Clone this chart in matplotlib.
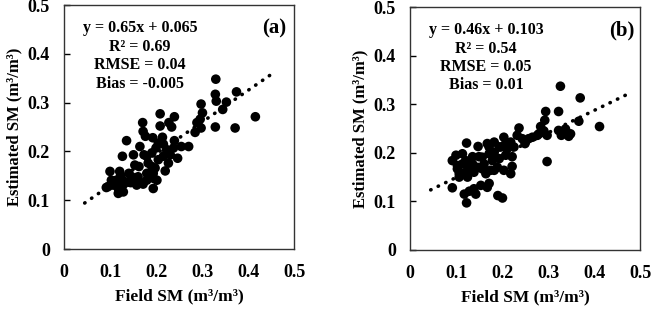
import matplotlib
matplotlib.use("Agg")
import matplotlib.pyplot as plt
import numpy as np

plt.rcParams['font.family'] = ['Liberation Serif', 'DejaVu Serif']
plt.rcParams['font.weight'] = 'bold'

# Panel (a) data
a_field = [0.330, 0.329, 0.331, 0.375, 0.353, 0.345, 0.298, 0.301, 0.296, 0.289,
           0.298, 0.285, 0.329, 0.372, 0.416, 0.209, 0.240, 0.228, 0.209, 0.234,
           0.171, 0.172, 0.177, 0.193, 0.136, 0.240, 0.255, 0.271, 0.216, 0.223,
           0.200, 0.191, 0.180, 0.174, 0.151, 0.127, 0.216, 0.205, 0.227, 0.247,
           0.220, 0.183, 0.154, 0.191, 0.198, 0.187, 0.100, 0.121, 0.141, 0.161,
           0.194, 0.202, 0.180, 0.164, 0.151, 0.132, 0.114, 0.103, 0.107, 0.096,
           0.118, 0.129, 0.145, 0.172, 0.158, 0.194, 0.118, 0.129, 0.140, 0.147,
           0.123, 0.163, 0.205, 0.231, 0.238, 0.214, 0.165, 0.180, 0.194, 0.092]
a_est = [0.348, 0.317, 0.303, 0.322, 0.301, 0.286, 0.297, 0.279, 0.266, 0.259,
         0.248, 0.239, 0.250, 0.248, 0.271, 0.277, 0.271, 0.259, 0.252, 0.250,
         0.259, 0.241, 0.231, 0.228, 0.222, 0.222, 0.210, 0.210, 0.215, 0.203,
         0.207, 0.197, 0.190, 0.193, 0.193, 0.190, 0.190, 0.183, 0.176, 0.186,
         0.160, 0.176, 0.172, 0.169, 0.166, 0.155, 0.159, 0.159, 0.155, 0.148,
         0.145, 0.141, 0.141, 0.138, 0.141, 0.138, 0.141, 0.141, 0.131, 0.128,
         0.124, 0.132, 0.136, 0.133, 0.131, 0.124, 0.114, 0.117, 0.137, 0.148,
         0.150, 0.169, 0.217, 0.193, 0.207, 0.229, 0.210, 0.155, 0.155, 0.126]

# Panel (b) data
b_field = [0.327, 0.370, 0.323, 0.295, 0.293, 0.284, 0.291, 0.298, 0.277, 0.258,
           0.250, 0.237, 0.233, 0.323, 0.329, 0.338, 0.349, 0.345, 0.367, 0.412,
           0.298, 0.123, 0.148, 0.168, 0.183, 0.204, 0.219, 0.197, 0.211, 0.183,
           0.172, 0.157, 0.136, 0.100, 0.092, 0.103, 0.114, 0.121, 0.129, 0.147,
           0.161, 0.179, 0.194, 0.208, 0.222, 0.222, 0.219, 0.204, 0.190, 0.175,
           0.157, 0.139, 0.121, 0.107, 0.107, 0.125, 0.154, 0.172, 0.168, 0.139,
           0.129, 0.118, 0.143, 0.092, 0.123, 0.191, 0.201, 0.183, 0.165, 0.150,
           0.194, 0.208, 0.226, 0.186, 0.172, 0.251, 0.244, 0.280, 0.266, 0.114,
           0.136, 0.103]
b_est = [0.337, 0.313, 0.285, 0.285, 0.267, 0.254, 0.245, 0.236, 0.236, 0.229,
         0.219, 0.251, 0.236, 0.246, 0.236, 0.249, 0.239, 0.234, 0.265, 0.254,
         0.182, 0.220, 0.213, 0.219, 0.222, 0.232, 0.222, 0.212, 0.208, 0.201,
         0.198, 0.191, 0.192, 0.195, 0.184, 0.174, 0.198, 0.184, 0.170, 0.170,
         0.177, 0.184, 0.188, 0.195, 0.192, 0.172, 0.157, 0.164, 0.170, 0.164,
         0.167, 0.160, 0.160, 0.157, 0.150, 0.150, 0.133, 0.137, 0.129, 0.126,
         0.121, 0.115, 0.115, 0.128, 0.097, 0.112, 0.107, 0.164, 0.157, 0.192,
         0.212, 0.219, 0.212, 0.190, 0.212, 0.223, 0.229, 0.239, 0.232, 0.177,
         0.177, 0.167]

ticks = [0, 0.1, 0.2, 0.3, 0.4, 0.5]
tick_labels = ['0', '0.1', '0.2', '0.3', '0.4', '0.5']

panels = [
    dict(field=a_field, est=a_est, slope=0.65, icpt=0.065, xr=(0.045, 0.45),
         stats=['y = 0.65x + 0.065', 'R² = 0.69', 'RMSE = 0.04', 'Bias = -0.005'],
         tag='(a)', rect=[64/652, 1-249/309, 230/652, 244/309], txt_x=0.33, tag_x=0.915),
    dict(field=b_field, est=b_est, slope=0.46, icpt=0.103, xr=(0.045, 0.475),
         stats=['y = 0.46x + 0.103', 'R² = 0.54', 'RMSE = 0.05', 'Bias = 0.01'],
         tag='(b)', rect=[410/652, 1-250/309, 230/652, 243/309], txt_x=0.33, tag_x=0.92),
]

fig = plt.figure(figsize=(6.52, 3.09), dpi=100)
for p in panels:
    ax = fig.add_axes(p['rect'])
    ax.scatter(p['field'], p['est'], s=48, c='black', edgecolors='none', zorder=3)
    xs = np.array(p['xr'])
    ax.plot(xs, p['slope'] * xs + p['icpt'], color='black', linestyle=(0, (0.1, 2.2)),
            linewidth=2.6, dash_capstyle='round', solid_capstyle='round', zorder=2)
    ax.set_xlim(0, 0.5)
    ax.set_ylim(0, 0.5)
    ax.set_xticks(ticks)
    ax.set_xticklabels(tick_labels)
    ax.set_yticks(ticks)
    ax.set_yticklabels(tick_labels)
    ax.tick_params(axis='x', direction='in', length=0, pad=11, labelsize=13)
    ax.tick_params(axis='y', direction='in', length=4, pad=10, labelsize=13, width=1)
    for sp in ax.spines.values():
        sp.set_linewidth(1.0)
        sp.set_color('#333333')
    ax.set_xlabel('Field SM (m³/m³)', fontsize=12.5, fontweight='bold', labelpad=5)
    ax.set_ylabel('Estimated SM (m³/m³)', fontsize=12, fontweight='bold', labelpad=4)
    for i, s in enumerate(p['stats']):
        ax.text(p['txt_x'], 0.905 - i * 0.076, s, transform=ax.transAxes,
                ha='center', va='center', fontsize=11.5, fontweight='bold')
    ax.text(p['tag_x'], 0.905, p['tag'], transform=ax.transAxes,
            ha='center', va='center', fontsize=15, fontweight='bold')

fig.savefig('out.png', dpi=100)
